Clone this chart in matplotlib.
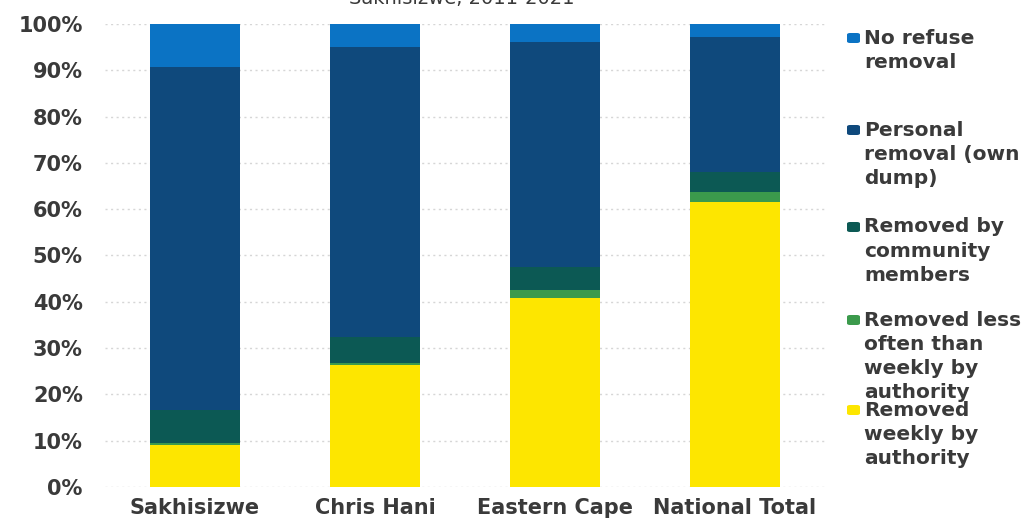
import matplotlib
matplotlib.use("Agg")
import matplotlib.pyplot as plt
from matplotlib.patches import FancyBboxPatch
from matplotlib.ticker import PercentFormatter

# Share of households by refuse-removal type (%)
categories = ["Sakhisizwe", "Chris Hani", "Eastern Cape", "National Total"]
weekly_by_authority = [9.1, 26.3, 40.8, 61.6]
less_often_by_authority = [0.4, 0.5, 1.7, 2.1]
community_members = [7.1, 5.6, 5.0, 4.3]
personal_removal = [74.1, 62.6, 48.6, 29.2]
no_removal = [9.3, 5.0, 3.9, 2.8]

series_names = [
    "Removed weekly by authority",
    "Removed less often than weekly by authority",
    "Removed by community members",
    "Personal removal (own dump)",
    "No refuse removal",
]
series_values = [weekly_by_authority, less_often_by_authority,
                 community_members, personal_removal, no_removal]
series_colors = ["#fde600", "#3b9a4c", "#0c5954", "#0f497c", "#0b73c4"]

legend_lines = {
    "No refuse removal": ["No refuse", "removal"],
    "Personal removal (own dump)": ["Personal", "removal (own", "dump)"],
    "Removed by community members": ["Removed by", "community", "members"],
    "Removed less often than weekly by authority": ["Removed less", "often than", "weekly by", "authority"],
    "Removed weekly by authority": ["Removed", "weekly by", "authority"],
}

W, H = 1030, 522
fig = plt.figure(figsize=(W / 100, H / 100), dpi=100)
ax = fig.add_axes([105 / W, 1 - 487 / H, 720 / W, (487 - 24) / H])

text_color = "#3a3a3a"
x = range(len(categories))
bottom = [0.0] * len(categories)
for name, vals, col in zip(series_names, series_values, series_colors):
    ax.bar(x, vals, width=0.505, bottom=bottom, color=col, label=name, zorder=2)
    bottom = [b + v for b, v in zip(bottom, vals)]

ax.set_xlim(-0.5, len(categories) - 0.5)
ax.set_ylim(0, 100)
ax.set_yticks(range(0, 101, 10))
ax.yaxis.set_major_formatter(PercentFormatter(decimals=0))
ax.set_xticks(list(x))
ax.set_xticklabels(categories)
ax.grid(axis="y", color="#d6d6d6", linestyle=(0, (1.5, 2.5)), linewidth=1.0, zorder=0)
for s in ax.spines.values():
    s.set_visible(False)
ax.tick_params(axis="both", length=0, labelsize=15, labelcolor=text_color)
ax.tick_params(axis="y", pad=16)
ax.tick_params(axis="x", pad=8)
for lbl in ax.get_xticklabels() + ax.get_yticklabels():
    lbl.set_fontweight("bold")

# Title (second line of the heading, partly outside the canvas)
fig.text(462 / W, 1 - 4 / H, "Sakhisizwe, 2011-2021", ha="center", va="baseline",
         fontsize=14, color=text_color)

# Hand-placed legend to the right of the bars
first_line_y = {
    "No refuse removal": 38,
    "Personal removal (own dump)": 130,
    "Removed by community members": 227,
    "Removed less often than weekly by authority": 320,
    "Removed weekly by authority": 410,
}
line_step = 24.3
for name, col in zip(series_names, series_colors):
    y0 = first_line_y[name]
    box = FancyBboxPatch((847 / W, 1 - (y0 + 5) / H), 13 / W, 10 / H,
                         boxstyle="round,pad=0,rounding_size=0.003",
                         transform=fig.transFigure, facecolor=col, edgecolor="none")
    fig.patches.append(box)
    for i, line in enumerate(legend_lines[name]):
        fig.text(864 / W, 1 - (y0 + i * line_step) / H, line, ha="left", va="center",
                 fontsize=14.5, fontweight="bold", color=text_color)

fig.savefig("out.png", dpi=100)
